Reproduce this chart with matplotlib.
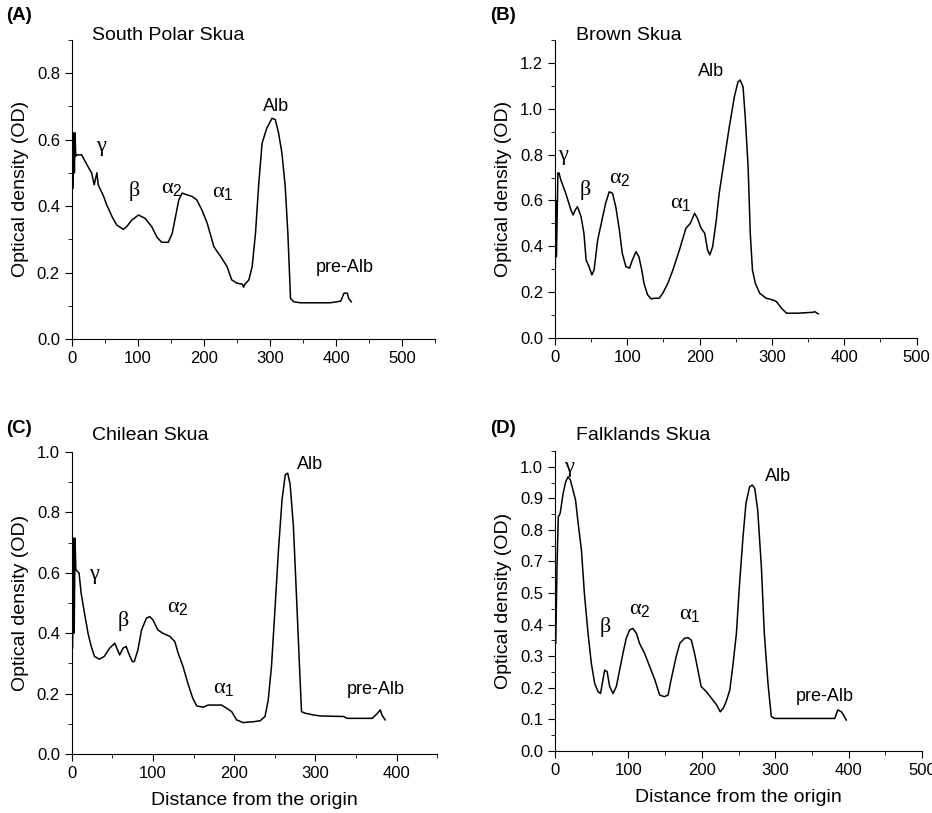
import matplotlib
matplotlib.use("Agg")
import matplotlib.pyplot as plt
from matplotlib.ticker import MultipleLocator, FixedLocator, FixedFormatter

plt.rcParams["font.family"] = ["Liberation Sans", "DejaVu Sans"]
# upright serif greek letters, sans subscripts
plt.rcParams["mathtext.fontset"] = "custom"
plt.rcParams["mathtext.rm"] = "Liberation Sans"
plt.rcParams["mathtext.it"] = "Liberation Serif"
plt.rcParams["mathtext.bf"] = "Liberation Sans:bold"

# ---- data ----
# (A) South Polar Skua
a_x = [2, 3, 4, 5, 6, 7.6, 15, 23, 30, 34, 38, 40, 48, 53, 61, 68, 78, 83, 91, 101, 111, 121, 129,
       136, 146, 152, 157, 162, 167, 174, 182, 189, 197, 205, 215, 227, 235, 242, 250, 258, 260,
       262, 268, 273, 278, 283, 288, 295, 303, 308, 313, 318, 323, 327, 331, 336, 346, 391, 407,
       412, 417, 419, 423]
a_y = [0.454, 0.62, 0.50, 0.62, 0.55, 0.554, 0.554, 0.524, 0.50, 0.464, 0.50, 0.464, 0.43, 0.403,
       0.368, 0.343, 0.33, 0.338, 0.358, 0.373, 0.363, 0.338, 0.306, 0.291, 0.291, 0.318, 0.368,
       0.419, 0.439, 0.434, 0.429, 0.419, 0.388, 0.348, 0.278, 0.243, 0.218, 0.178, 0.168, 0.165,
       0.156, 0.165, 0.178, 0.218, 0.318, 0.469, 0.589, 0.634, 0.664, 0.66, 0.619, 0.559, 0.459,
       0.318, 0.122, 0.112, 0.109, 0.109, 0.114, 0.138, 0.138, 0.122, 0.112]

# (B) Brown Skua
b_x = [0, 1, 2, 4, 5.5, 8, 15, 22, 25, 28, 31, 36, 40, 43, 47, 51, 54, 59, 66, 70, 75, 79.5, 84,
       89, 93, 98, 103, 107, 112, 116, 120, 123, 128, 133, 137, 144, 149, 156, 163, 172, 181, 187,
       193, 197, 202, 207, 211, 214, 218, 223, 227, 234, 241, 248, 253, 256, 260, 263, 267, 270,
       273, 277, 283, 292, 301, 306, 313, 320, 336, 357, 359, 364]
b_y = [0.123, 0.60, 0.355, 0.72, 0.72, 0.69, 0.63, 0.559, 0.537, 0.559, 0.573, 0.53, 0.457, 0.341,
       0.312, 0.276, 0.297, 0.428, 0.53, 0.588, 0.638, 0.631, 0.573, 0.472, 0.37, 0.312, 0.305,
       0.341, 0.377, 0.355, 0.297, 0.239, 0.189, 0.171, 0.174, 0.174, 0.196, 0.239, 0.297, 0.384,
       0.479, 0.50, 0.544, 0.522, 0.479, 0.457, 0.384, 0.363, 0.399, 0.515, 0.631, 0.776, 0.921,
       1.052, 1.117, 1.125, 1.095, 0.965, 0.747, 0.457, 0.297, 0.239, 0.196, 0.174, 0.167, 0.16,
       0.131, 0.109, 0.109, 0.113, 0.116, 0.106]

# (C) Chilean Skua
c_x = [1, 2, 3, 4, 5, 9, 11.5, 15.7, 20, 24, 28, 34, 40, 46.5, 53, 55.6, 59, 63, 67, 70, 74.5, 77,
       81.5, 86, 92, 96, 100, 106, 112, 121, 127, 131, 137, 143, 149, 154, 162, 168, 184.5, 191,
       197, 203, 211, 224, 232, 238, 242, 246, 250, 254.6, 259, 263, 266, 269, 273, 277, 280.5,
       283, 287.5, 298, 306, 335, 339, 370, 376, 380, 382, 386]
c_y = [0.35, 0.715, 0.40, 0.715, 0.61, 0.599, 0.533, 0.466, 0.40, 0.356, 0.323, 0.314, 0.323,
       0.35, 0.367, 0.35, 0.328, 0.35, 0.356, 0.334, 0.306, 0.306, 0.345, 0.411, 0.45, 0.455,
       0.444, 0.411, 0.40, 0.389, 0.372, 0.334, 0.29, 0.234, 0.185, 0.159, 0.155, 0.162, 0.162,
       0.151, 0.14, 0.113, 0.104, 0.107, 0.11, 0.124, 0.179, 0.29, 0.466, 0.676, 0.842, 0.925,
       0.93, 0.892, 0.754, 0.51, 0.29, 0.14, 0.135, 0.129, 0.126, 0.124, 0.118, 0.118, 0.133,
       0.146, 0.129, 0.113]

# (D) Falklands Skua -- values in axis-position units (the printed scale skips "0.6")
d_x = [1, 2.7, 4.5, 7, 11, 14.5, 17.7, 21, 24.5, 28, 31, 36, 40, 45, 49.5, 54, 58.5, 62, 64.4,
       67.6, 71, 74.4, 79, 83.5, 88, 92.5, 97, 101.6, 106, 111, 115, 122, 129, 136, 142.5, 149,
       154, 158, 165, 170, 176.5, 181, 185.6, 190, 194.6, 199, 206, 213, 220, 225, 229, 233, 238,
       242, 247, 251, 256, 260, 265, 268.6, 272, 276, 281, 285, 290, 294.5, 299, 381, 385, 390,
       394, 396.5]
d_y = [0.341, 0.583, 0.742, 0.752, 0.815, 0.852, 0.868, 0.858, 0.826, 0.794, 0.731, 0.636, 0.499,
       0.372, 0.277, 0.214, 0.188, 0.182, 0.214, 0.256, 0.251, 0.204, 0.182, 0.204, 0.256, 0.309,
       0.357, 0.383, 0.388, 0.372, 0.341, 0.309, 0.267, 0.225, 0.177, 0.172, 0.177, 0.225, 0.299,
       0.341, 0.357, 0.359, 0.351, 0.309, 0.256, 0.204, 0.188, 0.167, 0.146, 0.124, 0.135, 0.156,
       0.193, 0.267, 0.372, 0.52, 0.678, 0.784, 0.837, 0.842, 0.831, 0.763, 0.583, 0.372, 0.214,
       0.109, 0.103, 0.103, 0.13, 0.124, 0.109, 0.098]
d_ticks = [0.0, 0.1, 0.2, 0.3, 0.4, 0.5, 0.6, 0.7, 0.8, 0.9]
d_ticklabels = ["0.0", "0.1", "0.2", "0.3", "0.4", "0.5", "0.7", "0.8", "0.9", "1.0"]

panels = [
    dict(tag="(A)", title="South Polar Skua", x=a_x, y=a_y, xlim=550, ylim=0.9, ystep=0.2,
         yminor=0.1, xlabel=False, pos=[0.077, 0.583, 0.39, 0.368], title_y=35, tag_y=16,
         labels=[("$\\gamma$", 45, 0.575), ("$\\beta$", 94, 0.445), ("$\\alpha_2$", 152, 0.455),
                 ("$\\alpha_1$", 228, 0.445), ("Alb", 309, 0.70), ("pre-Alb", 413, 0.215)]),
    dict(tag="(B)", title="Brown Skua", x=b_x, y=b_y, xlim=500, ylim=1.3, ystep=0.2,
         yminor=0.1, xlabel=False, pos=[0.5955, 0.584, 0.388, 0.367], title_y=35, tag_y=16,
         labels=[("$\\gamma$", 12, 0.79), ("$\\beta$", 42, 0.645), ("$\\alpha_2$", 89, 0.70),
                 ("$\\alpha_1$", 174, 0.59), ("Alb", 216, 1.16)]),
    dict(tag="(C)", title="Chilean Skua", x=c_x, y=c_y, xlim=450, ylim=1.0, ystep=0.2,
         yminor=0.1, xlabel=True, pos=[0.077, 0.0726, 0.392, 0.3714], title_y=435, tag_y=428,
         labels=[("$\\gamma$", 28, 0.59), ("$\\beta$", 63, 0.44), ("$\\alpha_2$", 131, 0.49),
                 ("$\\alpha_1$", 187, 0.22), ("Alb", 294, 0.96), ("pre-Alb", 374, 0.215)]),
    dict(tag="(D)", title="Falklands Skua", x=d_x, y=d_y, xlim=500, ylim=0.95, ystep=None,
         yminor=0.05, xlabel=True, pos=[0.5955, 0.0763, 0.394, 0.369], title_y=435, tag_y=428,
         labels=[("$\\gamma$", 20, 0.895), ("$\\beta$", 68, 0.393), ("$\\alpha_2$", 115, 0.451),
                 ("$\\alpha_1$", 183, 0.436), ("Alb", 303, 0.868), ("pre-Alb", 367, 0.172)]),
]

W, H = 932, 813
fig = plt.figure(figsize=(W / 100, H / 100), dpi=100)

for p in panels:
    ax = fig.add_axes(p["pos"])
    ax.plot(p["x"], p["y"], color="black", lw=1.1)
    ax.set_xlim(0, p["xlim"])
    ax.set_ylim(0, p["ylim"])
    ax.spines["top"].set_visible(False)
    ax.spines["right"].set_visible(False)
    ax.xaxis.set_major_locator(MultipleLocator(100))
    ax.xaxis.set_minor_locator(MultipleLocator(50))
    if p["ystep"] is None:
        ax.yaxis.set_major_locator(FixedLocator(d_ticks))
        ax.yaxis.set_major_formatter(FixedFormatter(d_ticklabels))
    else:
        ax.yaxis.set_major_locator(MultipleLocator(p["ystep"]))
        ax.yaxis.set_major_formatter(lambda v, _: "{:.1f}".format(v))
    ax.yaxis.set_minor_locator(MultipleLocator(p["yminor"]))
    ax.tick_params(which="major", direction="out", length=5, labelsize=12)
    ax.tick_params(which="minor", direction="out", length=3)
    ax.set_ylabel("Optical density (OD)", fontsize=14, labelpad=6)
    if p["xlabel"]:
        ax.set_xlabel("Distance from the origin", fontsize=14, labelpad=8)
    for txt, lx, ly in p["labels"]:
        size = 16 if txt.startswith("$") else 13
        ax.text(lx, ly, txt, fontsize=size, ha="center", va="center")
    bb = p["pos"]
    fig.text(bb[0] + 0.022, 1 - p["title_y"] / H, p["title"], fontsize=14, va="center")
    fig.text(bb[0] - 0.07, 1 - p["tag_y"] / H, p["tag"], fontsize=13.5, fontweight="bold",
             va="center")

fig.savefig("out.png", dpi=100)
